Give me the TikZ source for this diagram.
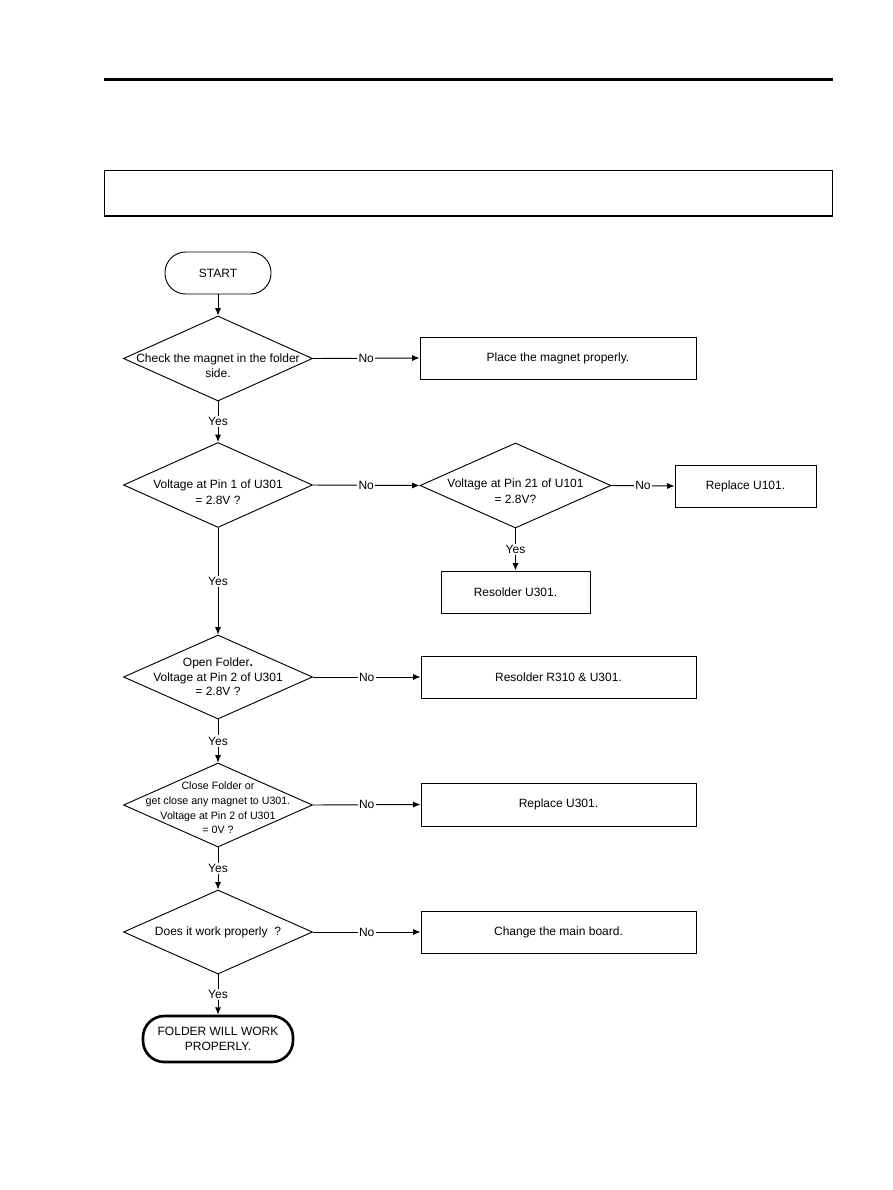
\documentclass[tikz,border=0pt]{standalone}
\usepackage{fontspec}
\setmainfont{Liberation Sans}
\usetikzlibrary{shapes.geometric,arrows.meta}
\begin{document}
\begin{tikzpicture}[x=0.75pt,y=-0.75pt,
  every node/.style={font=\fontsize{9}{11}\selectfont},
  thin line/.style={line width=0.7pt},
  arr/.style={thin line,-{Latex[length=5.5pt,width=4.5pt]}},
  lbl/.style={fill=white,inner sep=1pt},
  dec/.style={diamond,draw,thin line,inner sep=0pt,minimum width={189*0.75pt},minimum height={85*0.75pt}},
  dtext/.style={align=center,inner sep=0pt},
  act/.style={draw,rectangle,thin line,inner sep=0pt,minimum height={42*0.75pt}},
  term/.style={draw,rectangle,thin line,rounded corners=15.5pt,inner sep=0pt,minimum width={106*0.75pt},minimum height={42*0.75pt}},
  endterm/.style={draw,rectangle,line width=2pt,rounded corners=16pt,inner sep=0pt,align=center,minimum width={150*0.75pt},minimum height={46*0.75pt}}
]
\useasboundingbox (0,0) rectangle (893,1190);
% header
\draw[line width=2.25pt] (104,79.5) -- (833,79.5);
\draw[line width=1pt] (104.5,170.5) rectangle (832.5,216);

% nodes
\node[term] (start) at (218,273) {START};

\node[dec] (d1) at (218,358.5) {};
\node[dtext] (d1t) at (218,366) {Check the magnet in the folder\\side.};
\node[act,minimum width={276*0.75pt}] (b1) at (558,358) {Place the magnet properly.};

\node[dec] (d2) at (218,485) {};
\node[dtext,font=\fontsize{9}{12}\selectfont] (d2t) at (218,492) {Voltage at Pin 1 of U301\\= 2.8V ?};

\node[dec,minimum width={191*0.75pt}] (d21) at (515.5,485.5) {};
\node[dtext,font=\fontsize{9}{12}\selectfont] (d21t) at (515.5,491) {Voltage at Pin 21 of U101\\= 2.8V?};
\node[act,minimum width={141*0.75pt}] (b21) at (745.5,486) {Replace U101.};
\node[act,minimum width={149*0.75pt}] (b22) at (515.5,592) {Resolder U301.};

\node[dec,minimum height={84*0.75pt}] (d3) at (218,677) {};
\node[dtext,font=\fontsize{9}{10.8}\selectfont] (d3t) at (218,677) {Open Folder\textbf{.}\\Voltage at Pin 2 of U301\\= 2.8V ?};
\node[act,minimum width={275*0.75pt}] (b3) at (558.5,677) {Resolder R310 \& U301.};

\node[dec,minimum height={84*0.75pt}] (d4) at (218,805) {};
\node[dtext,font=\fontsize{8}{11}\selectfont] (d4t) at (218,808) {Close Folder or\\get close any magnet to U301.\\Voltage at Pin 2 of U301\\= 0V ?};
\node[act,minimum width={275*0.75pt},minimum height={43*0.75pt}] (b4) at (558.5,804.5) {Replace U301.};

\node[dec,minimum height={84*0.75pt}] (d5) at (218,932) {};
\node[dtext] (d5t) at (218,932) {Does it work properly\ \ ?};
\node[act,minimum width={275*0.75pt}] (b5) at (558.5,932) {Change the main board.};

\node[endterm] (end) at (218,1039) {FOLDER WILL WORK\\PROPERLY.};

% connectors
\draw[arr] (start.south) -- (d1.north);
\draw[arr] (d1.east) -- node[lbl]{No} (b1.west);
\draw[arr] (d1.south) -- node[lbl]{Yes} (d2.north);
\draw[arr] (d2.east) -- node[lbl]{No} (d21.west);
\draw[arr] (d21.east) -- node[lbl]{No} (b21.west);
\draw[arr] (d21.south) -- node[lbl]{Yes} (b22.north);
\draw[arr] (d2.south) -- node[lbl]{Yes} (d3.north);
\draw[arr] (d3.east) -- node[lbl]{No} (b3.west);
\draw[arr] (d3.south) -- node[lbl]{Yes} (d4.north);
\draw[arr] (d4.east) -- node[lbl]{No} (b4.west);
\draw[arr] (d4.south) -- node[lbl]{Yes} (d5.north);
\draw[arr] (d5.east) -- node[lbl]{No} (b5.west);
\draw[arr] (d5.south) -- node[lbl]{Yes} (end.north);
\end{tikzpicture}
\end{document}
